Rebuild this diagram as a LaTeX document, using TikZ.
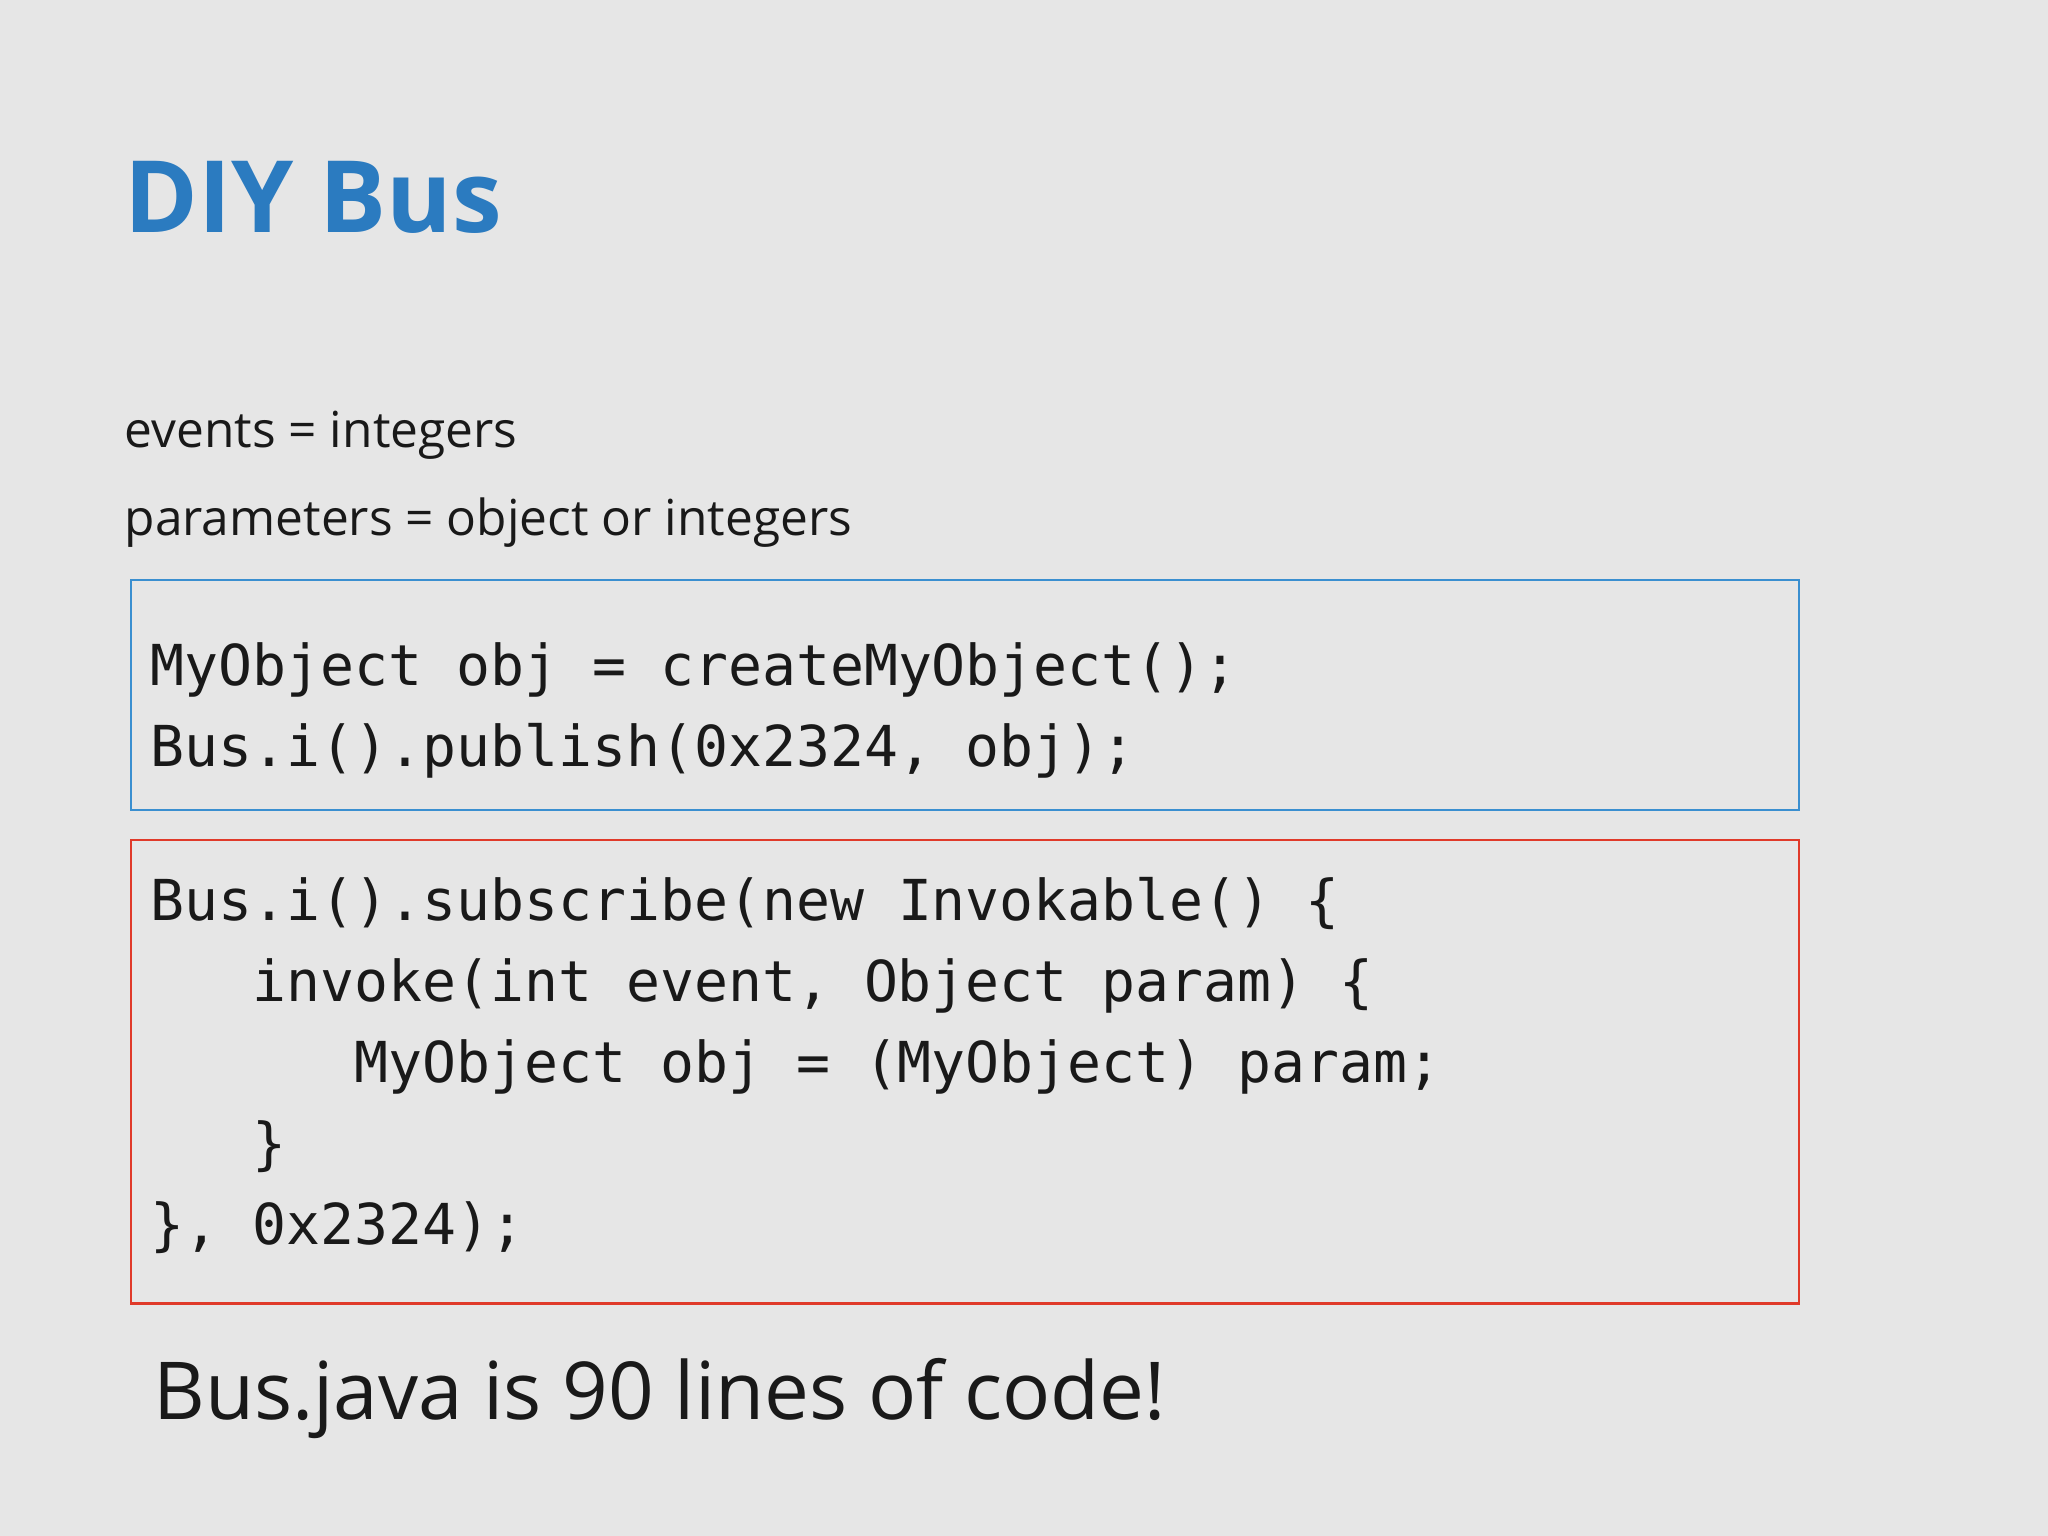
\documentclass[tikz,border=0pt]{standalone}
\usepackage{fontspec}
\setmainfont{Open Sans}
\setmonofont{DejaVu Sans Mono}
\definecolor{bg}{HTML}{E6E6E6}
\definecolor{ttl}{HTML}{2B7BC0}
\definecolor{bl}{HTML}{3A8FD0}
\definecolor{rd}{HTML}{E03A2A}
\begin{document}
\begin{tikzpicture}[x=0.5pt,y=-0.5pt,
  txt/.style={anchor=base west,inner sep=0pt,text=black!90},
  code/.style={txt,font=\fontsize{21.6}{26}\ttfamily}]
\fill[bg] (0,0) rectangle (1568,1176);
\useasboundingbox (0,0) rectangle (1568,1176);
\node[txt,text=ttl,font=\fontsize{38.2}{46}\selectfont\bfseries] (title) at (95,178) {DIY Bus};
\node[txt,font=\fontsize{19}{23}\selectfont] (ev) at (95,343) {events = integers};
\node[txt,font=\fontsize{19}{23}\selectfont] (par) at (95,410) {parameters = object or integers};
\draw[bl,line width=0.8pt] (100,444) rectangle (1377,620);
\draw[rd,line width=0.8pt] (100,643) rectangle (1377,998);
\node[code] (c1) at (115,525) {MyObject obj = createMyObject();};
\node[code] (c2) at (115,587) {Bus.i().publish(0x2324, obj);};
\node[code] (r1) at (115,705) {Bus.i().subscribe(new Invokable() \{};
\node[code] (r2) at (193,767) {invoke(int event, Object param) \{};
\node[code] (r3) at (271,829) {MyObject obj = (MyObject) param;};
\node[code] (r4) at (193,891) {\}};
\node[code] (r5) at (115,953) {\}, 0x2324);};
\node[txt,font=\fontsize{30.6}{37}\selectfont] (foot) at (117,1087) {Bus.java is 90 lines of code!};
\end{tikzpicture}
\end{document}
